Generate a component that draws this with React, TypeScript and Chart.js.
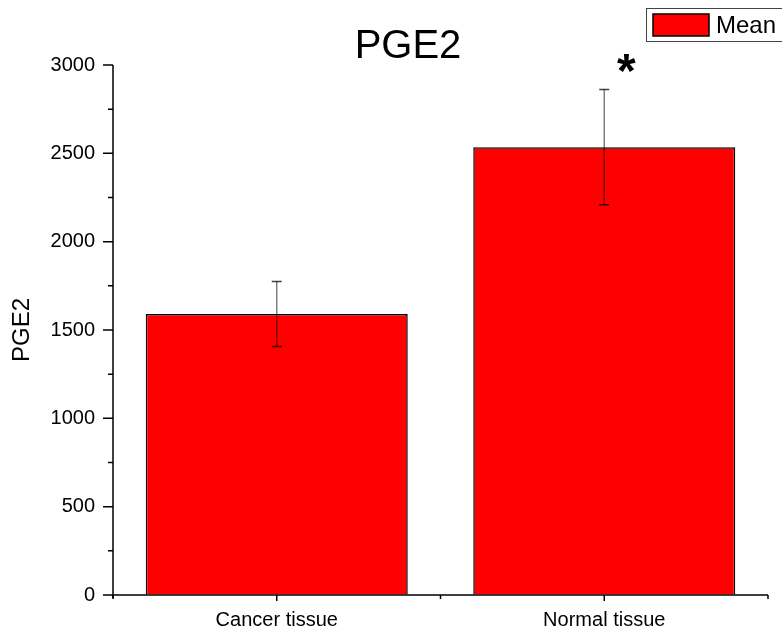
import React, { useEffect, useRef } from "react";
import { Chart, registerables } from "chart.js";

Chart.register(...registerables);

const categories = ["Cancer tissue", "Normal tissue"];
const means = [1590, 2535];
const errors = [184, 326];
const seriesLabel = "Mean";
const chartTitle = "PGE2";
const yTitle = "PGE2";
const yMin = 0;
const yMax = 3000;
const yStep = 500;
const significance = ["", "*"];

const FONT = "Arial, 'Liberation Sans', sans-serif";

const overlayPlugin = {
  id: "overlay",
  afterDatasetsDraw(chart: any) {
    const ctx = chart.ctx;
    const { left, right, top, bottom } = chart.chartArea;
    const x = chart.scales.x;
    const y = chart.scales.y;
    ctx.save();

    // error bars
    const meta = chart.getDatasetMeta(0);
    meta.data.forEach((bar: any, i: number) => {
      const cx = bar.x;
      const yHi = y.getPixelForValue(means[i] + errors[i]);
      const yLo = y.getPixelForValue(means[i] - errors[i]);
      ctx.strokeStyle = "rgba(0,0,0,0.5)";
      ctx.lineWidth = 1.5;
      ctx.beginPath();
      ctx.moveTo(cx, yHi);
      ctx.lineTo(cx, yLo);
      ctx.stroke();
      ctx.strokeStyle = "rgba(0,0,0,0.75)";
      ctx.beginPath();
      ctx.moveTo(cx - 5, yHi);
      ctx.lineTo(cx + 5, yHi);
      ctx.moveTo(cx - 5, yLo);
      ctx.lineTo(cx + 5, yLo);
      ctx.stroke();
    });

    // axes
    ctx.strokeStyle = "#000";
    ctx.lineWidth = 1.5;
    ctx.beginPath();
    ctx.moveTo(left, top);
    ctx.lineTo(left, bottom + 3);
    ctx.moveTo(left, bottom);
    ctx.lineTo(right, bottom);
    ctx.stroke();

    // y ticks
    ctx.lineWidth = 1.5;
    ctx.beginPath();
    for (let v = yMin; v <= yMax; v += yStep / 2) {
      const py = y.getPixelForValue(v);
      const len = v % yStep === 0 ? 10 : 5;
      ctx.moveTo(left - len, py);
      ctx.lineTo(left, py);
    }
    // x ticks
    categories.forEach((_, i) => {
      const px = x.getPixelForValue(i);
      ctx.moveTo(px, bottom);
      ctx.lineTo(px, bottom + 6);
    });
    for (let i = 0; i <= categories.length; i++) {
      const px = x.getPixelForValue(i - 0.5);
      ctx.moveTo(px, bottom);
      ctx.lineTo(px, bottom + 4);
    }
    ctx.stroke();

    // significance marks
    ctx.fillStyle = "#000";
    ctx.font = `bold 48px ${FONT}`;
    ctx.textAlign = "center";
    ctx.textBaseline = "middle";
    significance.forEach((s, i) => {
      if (!s) return;
      const px = x.getPixelForValue(i) + 22;
      ctx.fillText(s, px, 74);
    });

    // title
    ctx.font = `40px ${FONT}`;
    ctx.fillText(chartTitle, 408, 47);

    // legend
    ctx.strokeStyle = "#444";
    ctx.lineWidth = 1;
    ctx.fillStyle = "#fff";
    ctx.fillRect(646.5, 8.5, 150, 33);
    ctx.strokeRect(646.5, 8.5, 150, 33);
    ctx.fillStyle = "#ff0000";
    ctx.fillRect(653, 14, 56, 22);
    ctx.strokeStyle = "#000";
    ctx.lineWidth = 1.5;
    ctx.strokeRect(653, 14, 56, 22);
    ctx.fillStyle = "#000";
    ctx.font = `24px ${FONT}`;
    ctx.textAlign = "left";
    ctx.fillText(seriesLabel, 716, 26);

    ctx.restore();
  },
};

export default function App() {
  const ref = useRef<HTMLCanvasElement | null>(null);
  useEffect(() => {
    if (!ref.current) return;
    const chart = new Chart(ref.current, {
      type: "bar",
      data: {
        labels: categories,
        datasets: [
          {
            label: seriesLabel,
            data: means,
            backgroundColor: "#ff0000",
            borderColor: "#000",
            borderWidth: 1.5,
            barPercentage: 0.8,
            categoryPercentage: 1,
          },
        ],
      },
      options: {
        animation: false,
        responsive: false,
        layout: { padding: { top: 65, right: 14, left: 0, bottom: 0 } },
        plugins: {
          legend: { display: false },
          title: { display: false },
          tooltip: { enabled: false },
        },
        scales: {
          x: {
            offset: true,
            grid: { display: true, drawOnChartArea: false, tickLength: 6, tickColor: "transparent" },
            border: { display: false },
            ticks: { color: "#000", font: { family: FONT, size: 20 }, padding: 7, maxRotation: 0 },
            afterFit: (s: any) => { s.height = 40; },
          },
          y: {
            min: yMin,
            max: yMax,
            grid: { display: true, drawOnChartArea: false, tickLength: 10, tickColor: "transparent" },
            border: { display: false },
            ticks: {
              stepSize: yStep,
              color: "#000",
              font: { family: FONT, size: 20 },
              padding: 8,
              callback: (v: any) => String(v),
            },
            title: {
              display: true,
              text: yTitle,
              color: "#000",
              font: { family: FONT, size: 24, lineHeight: 1 },
              padding: { top: 10, bottom: 0 },
            },
            afterFit: (s: any) => { s.width = 113; },
          },
        },
      },
      plugins: [overlayPlugin],
    });
    return () => chart.destroy();
  }, []);
  return (
    <div style={{ position: "absolute", left: 0, top: 0, width: 782, height: 635 }}>
      <canvas ref={ref} width={782} height={635} style={{ width: 782, height: 635, display: "block" }} />
    </div>
  );
}
